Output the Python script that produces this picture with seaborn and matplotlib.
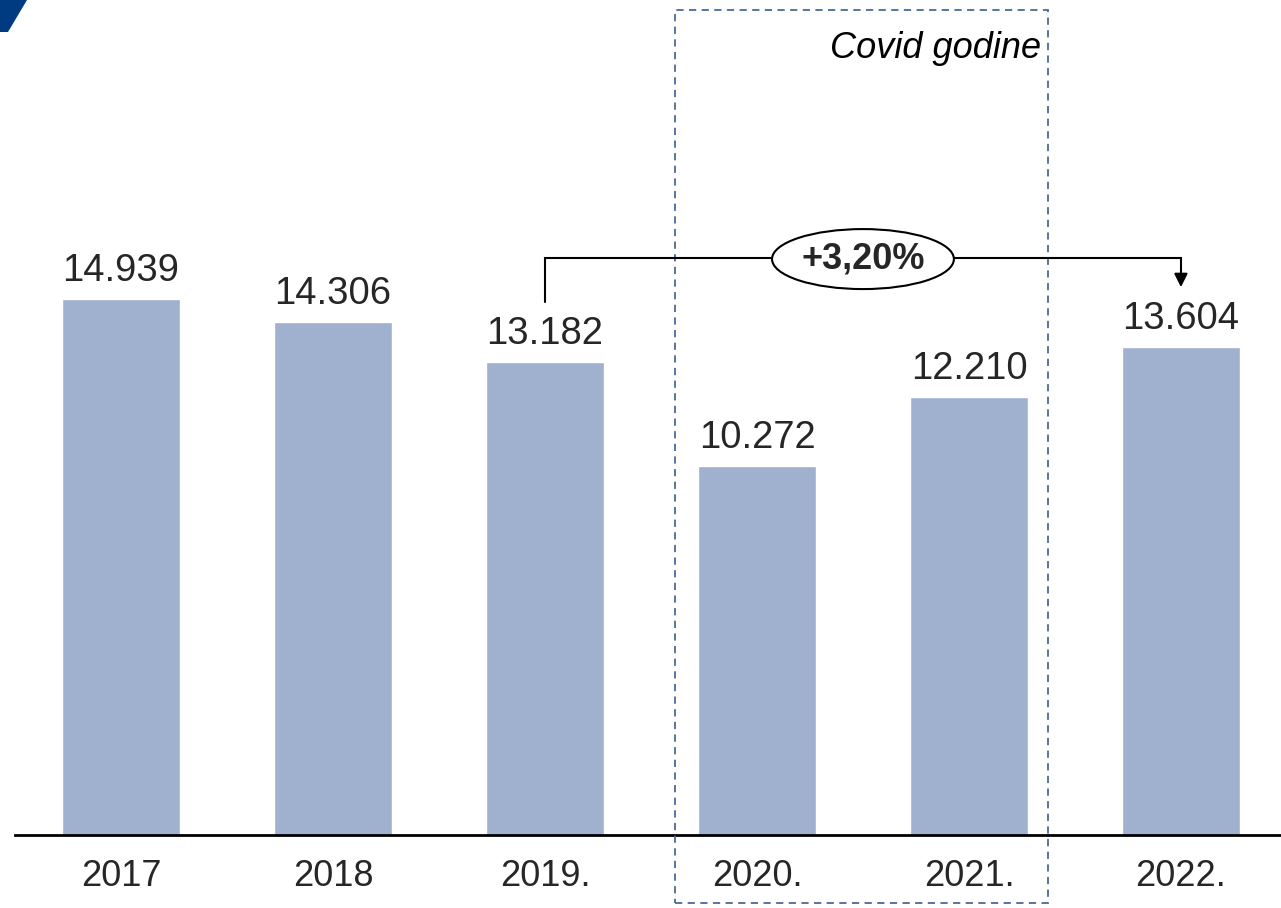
import matplotlib
matplotlib.use("Agg")
import matplotlib.pyplot as plt
from matplotlib.patches import Ellipse, Rectangle, Polygon
import seaborn as sns
import pandas as pd

years = ["2017", "2018", "2019.", "2020.", "2021.", "2022."]
values = [14.939, 14.306, 13.182, 10.272, 12.210, 13.604]
labels = ["14.939", "14.306", "13.182", "10.272", "12.210", "13.604"]
growth_label = "+3,20%"
box_label = "Covid godine"

df = pd.DataFrame({"year": years, "value": values})

sns.set_style("white")
plt.rcParams["font.family"] = ["Liberation Sans", "DejaVu Sans"]

W, H = 1281, 908
fig = plt.figure(figsize=(W / 100, H / 100), dpi=100)
ax = fig.add_axes([15 / W, (H - 835) / H, 1 - 15 / W, 835 / H])

sns.barplot(data=df, x="year", y="value", color="#9FB1CF", saturation=1,
            width=0.556, ax=ax)

ax.set_xlim(-0.5, 5.472)
ax.set_ylim(0, 23.27)
ax.set_xlabel("")
ax.set_ylabel("")
ax.set_yticks([])
ax.tick_params(axis="x", length=0, labelsize=26, labelcolor="#262626", pad=17)
for s in ["top", "left", "right"]:
    ax.spines[s].set_visible(False)
ax.spines["bottom"].set_linewidth(2)
ax.spines["bottom"].set_color("black")

# value labels
for i, (v, lab) in enumerate(zip(values, labels)):
    ax.text(i, v + 0.28, lab, ha="center", va="bottom", fontsize=27.5, color="#262626")

# covid box
ax.add_patch(Rectangle((2.613, -1.895), 4.373 - 2.613, 22.99 + 1.895, fill=False,
                       edgecolor="#4A6A96", linestyle=(0, (4, 3)), linewidth=1.3,
                       clip_on=False, zorder=5))
ax.text(4.34, 21.93, box_label, ha="right", va="center", fontsize=26,
        style="italic", color="black")

# growth bracket
y_line = 16.08
ax.plot([2, 2, 5, 5], [values[2] + 1.68, y_line, y_line, y_line - 0.55],
        color="black", lw=1.5, zorder=6, solid_joinstyle="miter")
ax.annotate("", xy=(5, 15.19), xytext=(5, y_line - 0.3),
            arrowprops=dict(arrowstyle="-|>,head_width=0.4,head_length=0.8",
                            color="black", lw=1.5), zorder=6)
ax.add_patch(Ellipse((3.5, 16.05), 0.858, 1.672, facecolor="white",
                     edgecolor="black", lw=1.5, zorder=7))
ax.text(3.5, 16.05, growth_label, ha="center", va="center", fontsize=26,
        fontweight="bold", color="#262626", zorder=8)

# corner decoration
fig.patches.append(Polygon([(0, 1), (27 / W, 1), (8 / W, 1 - 32 / H), (0, 1 - 32 / H)],
                           closed=True, transform=fig.transFigure,
                           facecolor="#003A80", edgecolor="none"))

fig.savefig("out.png", dpi=100)
